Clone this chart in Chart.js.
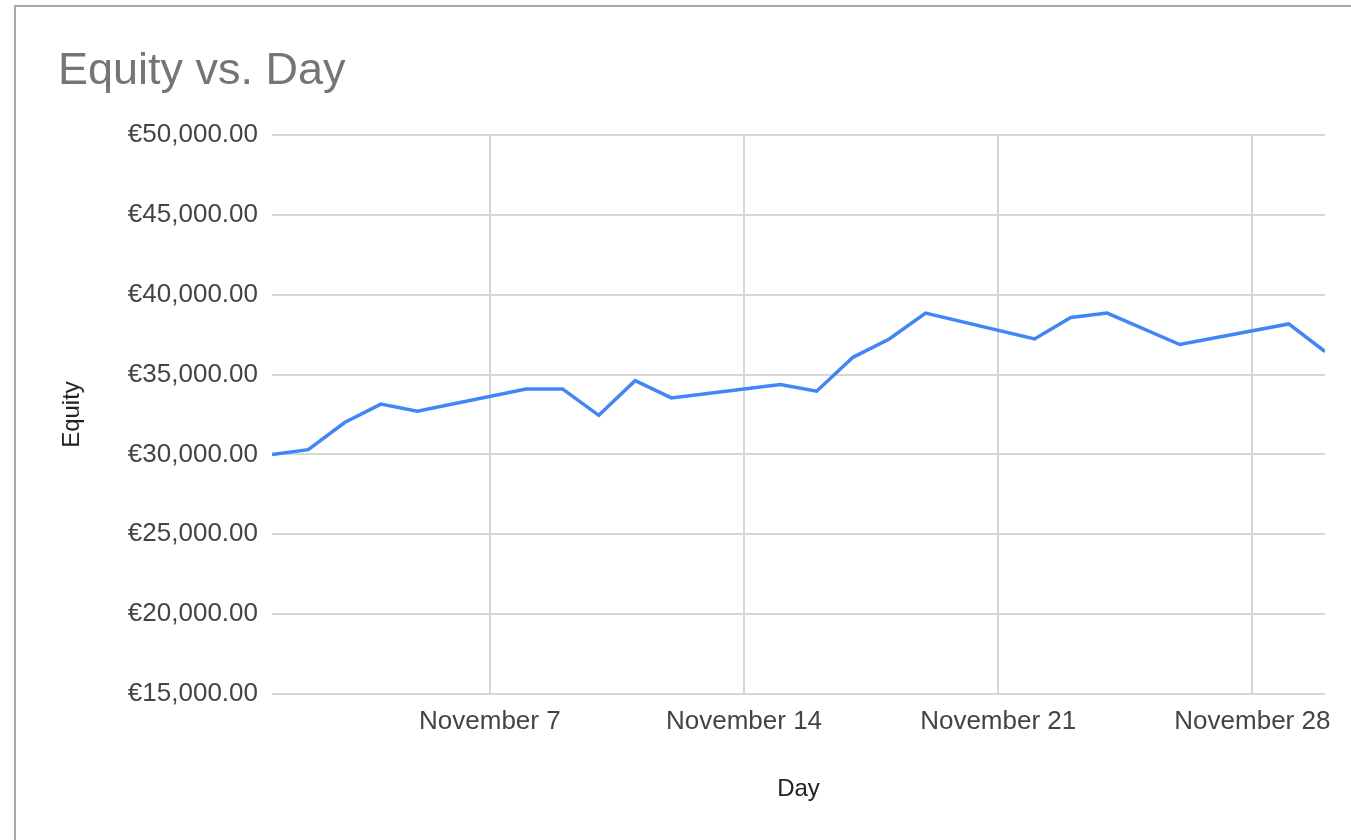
<!DOCTYPE html>
<html>
<head>
<meta charset="utf-8">
<script src="https://cdn.jsdelivr.net/npm/chart.js@4"></script>
<style>
  html, body { margin: 0; padding: 0; background: #fff; }
  #wrap { position: absolute; left: 0; top: 0; width: 1351px; height: 840px; overflow: hidden; }
  #frame { position: absolute; left: 14px; top: 5px; width: 1400px; height: 900px; border: 2px solid #a8a8a8; box-sizing: border-box; pointer-events: none; }
  canvas { position: absolute; left: 0; top: 0; }
</style>
</head>
<body>
<div id="wrap">
  <canvas id="c" width="1351" height="840"></canvas>
  <div id="frame"></div>
</div>
<script>
const chartTitle = 'Equity vs. Day';
const monthName = 'November';
const days = [1, 2, 3, 4, 5, 8, 9, 10, 11, 12, 15, 16, 17, 18, 19, 22, 23, 24, 26, 29, 30];
const equity = [30000, 30300, 32000, 33150, 32700, 34100, 34100, 32450, 34620, 33540, 34370, 33960, 36080, 37230, 38850, 37230, 38580, 38850, 36880, 38170, 36440];
const xTickDays = [7, 14, 21, 28];
const yMin = 15000, yMax = 50000, yStep = 5000;

const points = days.map((d, i) => ({ x: d, y: equity[i] }));
const FONT = "'Liberation Sans', Arial, sans-serif";

new Chart(document.getElementById('c'), {
  type: 'line',
  data: {
    datasets: [{
      label: 'Equity',
      data: points,
      borderColor: '#4285f4',
      borderWidth: 3.5,
      pointRadius: 0,
      tension: 0,
      fill: false
    }]
  },
  options: {
    responsive: false,
    animation: false,
    layout: { padding: { left: 58, right: 26, top: 0, bottom: 36 } },
    plugins: {
      legend: { display: false },
      tooltip: { enabled: false },
      title: {
        display: true,
        text: chartTitle,
        align: 'start',
        color: '#757575',
        font: { family: FONT, size: 45, weight: 'normal' },
        padding: { top: 45, bottom: 36 }
      }
    },
    scales: {
      x: {
        type: 'linear',
        min: 1,
        max: 30,
        afterBuildTicks: (scale) => { scale.ticks = xTickDays.map(v => ({ value: v })); },
        afterFit: (scale) => { scale.height = 110; },
        ticks: {
          autoSkip: false,
          maxRotation: 0,
          padding: 12,
          color: '#444',
          font: { family: FONT, size: 26 },
          callback: (v) => monthName + ' ' + v
        },
        grid: { color: '#d6d6d6', lineWidth: 2, drawTicks: false },
        border: { display: false },
        title: {
          display: true,
          text: 'Day',
          color: '#222',
          font: { family: FONT, size: 24 },
          padding: 0
        }
      },
      y: {
        min: yMin,
        max: yMax,
        afterFit: (scale) => { scale.width = 214; },
        ticks: {
          stepSize: yStep,
          padding: 14,
          color: '#444',
          font: { family: FONT, size: 26 },
          callback: (v) => '€' + Number(v).toLocaleString('en-US', { minimumFractionDigits: 2, maximumFractionDigits: 2 })
        },
        grid: { color: '#d6d6d6', lineWidth: 2, drawTicks: false },
        border: { display: false },
        title: {
          display: true,
          text: 'Equity',
          color: '#222',
          font: { family: FONT, size: 24 },
          padding: 0
        }
      }
    }
  }
});
</script>
</body>
</html>
